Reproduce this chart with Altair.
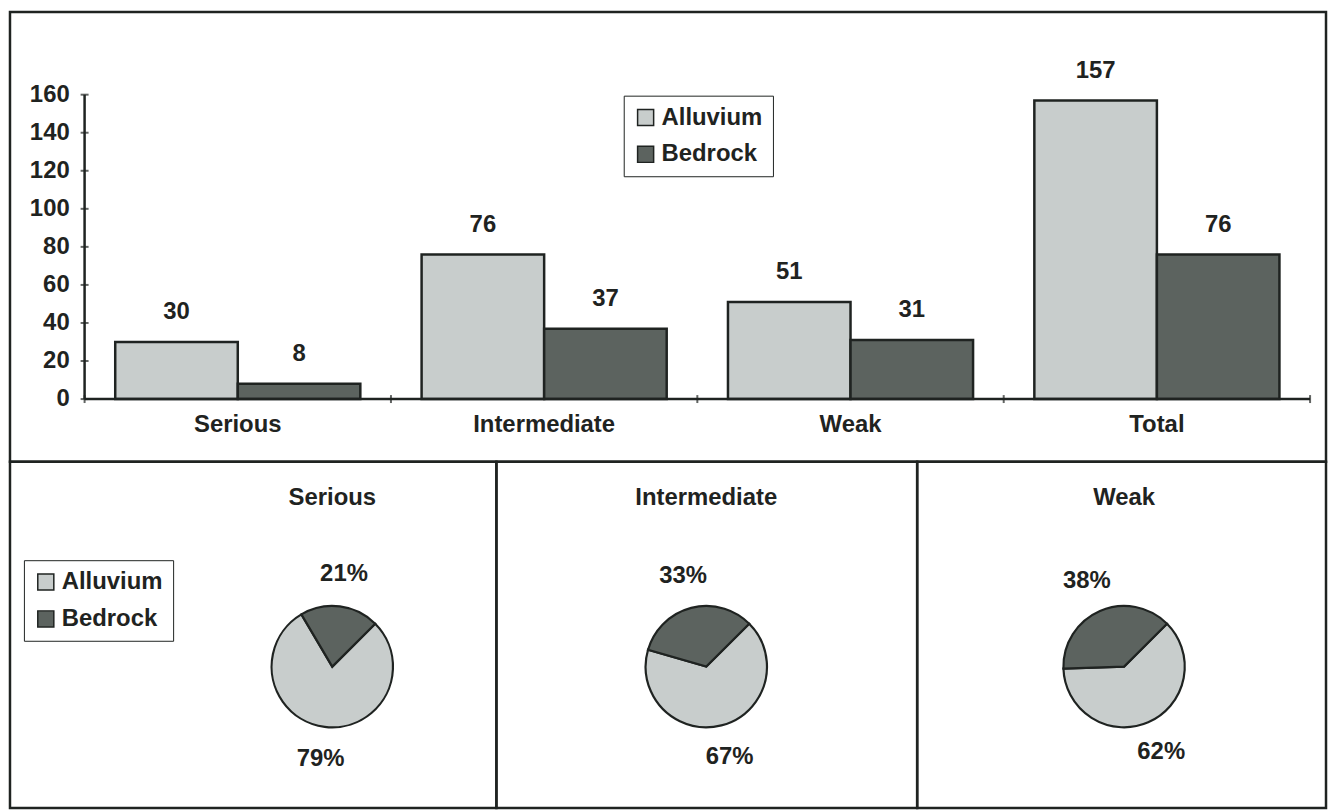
import math
import altair as alt
import pandas as pd

# ---------------- data ----------------
categories = ["Serious", "Intermediate", "Weak", "Total"]
series = ["Alluvium", "Bedrock"]
alluvium = [30, 76, 51, 157]
bedrock = [8, 37, 31, 76]
y_ticks = [0, 20, 40, 60, 80, 100, 120, 140, 160]

pie_groups = ["Serious", "Intermediate", "Weak"]
pie_alluvium_pct = [79, 67, 62]
pie_bedrock_pct = [21, 33, 38]

# ---------------- style ----------------
COLORS = ["#c8cdcc", "#5c635f"]
INK = "#1f2321"
FONT = "Liberation Sans"
FS = 24

TOP_W, TOP_H = 1323, 452
BOT_H = 348
PANEL_W = [489, 423, 411]
PIE_CX = [324, 211, 208]
PIE_CY = 206

color_scale = alt.Scale(domain=series, range=COLORS)

# ---------------- top bar chart ----------------
rows = []
for i, c in enumerate(categories):
    for j, vals in enumerate([alluvium, bedrock]):
        u0 = i + 0.1 + 0.4 * j
        rows.append(dict(cat=c, series=series[j], order=j, value=vals[i],
                         u0=u0, u1=u0 + 0.4, uc=u0 + 0.2))
bars_df = pd.DataFrame(rows)

xs = alt.Scale(domain=[-0.2435, 4.052], nice=False, zero=False)
ys = alt.Scale(domain=[-32.94, 203.4], nice=False, zero=False)


def X(f):
    return alt.X(f, scale=xs, axis=None, title=None)


def Y(f):
    return alt.Y(f, scale=ys, axis=None, title=None)


def legend_box(lx, ly):
    return alt.Legend(
        orient="none", legendX=lx, legendY=ly, title=None,
        strokeColor=INK, padding=10, rowPadding=13,
        symbolType="square", symbolSize=260,
        symbolStrokeColor=INK, symbolStrokeWidth=1.5,
        labelFont=FONT, labelFontSize=FS, labelFontWeight="bold",
        labelColor=INK, labelOffset=4,
    )


bars = alt.Chart(bars_df).mark_rect(stroke=INK, strokeWidth=2.5).encode(
    x=X("u0:Q"), x2="u1:Q",
    y=Y("value:Q"), y2=alt.datum(0),
    color=alt.Color("series:N", scale=color_scale, legend=legend_box(617, 84)),
)

value_labels = alt.Chart(bars_df).mark_text(
    font=FONT, fontSize=FS, fontWeight="bold", color=INK,
    baseline="middle", dy=-30,
).encode(x=X("uc:Q"), y=Y("value:Q"), text="value:Q")

yaxis_df = pd.DataFrame({"u": [0], "v0": [y_ticks[0]], "v1": [y_ticks[-1]]})
yaxis_line = alt.Chart(yaxis_df).mark_rule(color=INK, strokeWidth=2.5).encode(
    x=X("u:Q"), y=Y("v0:Q"), y2="v1:Q")

xaxis_df = pd.DataFrame({"u0": [0], "u1": [len(categories)], "v": [0]})
xaxis_line = alt.Chart(xaxis_df).mark_rule(color=INK, strokeWidth=2.5).encode(
    x=X("u0:Q"), x2="u1:Q", y=Y("v:Q"))

ytick_df = pd.DataFrame({"u": [0] * len(y_ticks), "v": y_ticks})
yticks = alt.Chart(ytick_df).mark_tick(orient="horizontal", size=8, thickness=2, color=INK).encode(
    x=X("u:Q"), y=Y("v:Q"))
ytick_labels = alt.Chart(ytick_df).mark_text(
    font=FONT, fontSize=FS, fontWeight="bold", color=INK,
    align="right", baseline="middle", dx=-15,
).encode(x=X("u:Q"), y=Y("v:Q"), text="v:Q")

xtick_df = pd.DataFrame({"u": list(range(len(categories) + 1)), "v": [0] * (len(categories) + 1)})
xticks = alt.Chart(xtick_df).mark_tick(orient="vertical", size=8, thickness=2, color=INK).encode(
    x=X("u:Q"), y=Y("v:Q"))

xlab_df = pd.DataFrame({"cat": categories, "u": [i + 0.5 for i in range(len(categories))],
                        "v": [0] * len(categories)})
xlabels = alt.Chart(xlab_df).mark_text(
    font=FONT, fontSize=FS, fontWeight="bold", color=INK,
    baseline="middle", dy=26,
).encode(x=X("u:Q"), y=Y("v:Q"), text="cat:N")

top = alt.layer(bars, value_labels, yaxis_line, xaxis_line, yticks, ytick_labels,
                xticks, xlabels).properties(width=TOP_W, height=TOP_H)


# ---------------- pies ----------------
def pie_panel(k):
    df = pd.DataFrame({
        "series": series,
        "pct": [pie_alluvium_pct[k], pie_bedrock_pct[k]],
        "order": [0, 1],
    })
    theta = alt.Theta("pct:Q", stack=True,
                      scale=alt.Scale(range=[math.pi / 4, math.pi / 4 + 2 * math.pi]))
    base = alt.Chart(df).transform_calculate(
        label="datum.pct + '%'"
    ).encode(
        theta=theta,
        order=alt.Order("order:Q"),
        x=alt.value(PIE_CX[k]), y=alt.value(PIE_CY),
    )
    if k == 0:
        color = alt.Color("series:N", scale=color_scale, legend=legend_box(14, 99))
    else:
        color = alt.Color("series:N", scale=color_scale, legend=None)
    arc = base.mark_arc(outerRadius=61, stroke=INK, strokeWidth=2.2).encode(color=color)
    lab = base.mark_text(radius=94, font=FONT, fontSize=FS, fontWeight="bold",
                         color=INK, baseline="middle").encode(text="label:N")
    title = alt.Chart(pd.DataFrame({"t": [pie_groups[k]]})).mark_text(
        font=FONT, fontSize=FS, fontWeight="bold", color=INK, baseline="middle",
    ).encode(text="t:N", x=alt.value(PIE_CX[k]), y=alt.value(37))
    return alt.layer(arc, lab, title).properties(width=PANEL_W[k], height=BOT_H)


bottom = alt.hconcat(*[pie_panel(k) for k in range(3)], spacing=0,
                     bounds="flush").resolve_legend(color="independent")

chart = alt.vconcat(top, bottom, spacing=0, bounds="flush").resolve_legend(
    color="independent"
).properties(
    padding=0, background="white"
).configure_view(
    stroke=INK, strokeWidth=2.5
).configure_axis(disable=True)

chart.save("out.html", embed_options={"renderer": "svg", "actions": False})
